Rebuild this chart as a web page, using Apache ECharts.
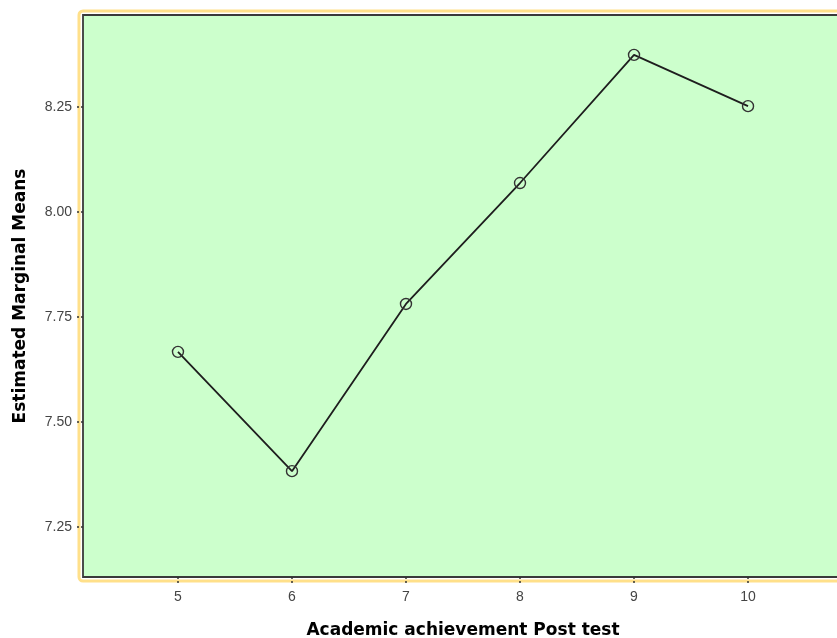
<!DOCTYPE html>
<html>
<head>
<meta charset="utf-8">
<script src="https://cdn.jsdelivr.net/npm/echarts@6/dist/echarts.min.js"></script>
<style>html,body{margin:0;padding:0;background:#fff;}#c{width:837px;height:638px;}</style>
</head>
<body>
<div id="c"></div>
<script>
var categories = [5, 6, 7, 8, 9, 10];
var means = [7.667, 7.383, 7.781, 8.069, 8.374, 8.252];
var yTicks = [7.25, 7.5, 7.75, 8.0, 8.25];
var xTicks = [5, 6, 7, 8, 9, 10];

var chart = echarts.init(document.getElementById('c'));
var pts = categories.map(function (c, i) { return [c, means[i]]; });
chart.setOption({
  animation: false,
  backgroundColor: '#ffffff',
  graphic: [{
    type: 'rect', z: -1,
    shape: { x: 79, y: 11, width: 780, height: 570, r: 4 },
    style: { fill: 'none', stroke: '#ffe08a', lineWidth: 3 }
  }],
  grid: {
    left: 83, top: 15, height: 562, width: 760,
    outerBoundsMode: 'none', containLabel: false,
    show: true, backgroundColor: '#ccffcc', borderColor: '#3a3a3a', borderWidth: 1.8
  },
  xAxis: {
    type: 'value', min: 4.167, max: 10.833,
    name: 'Academic achievement Post test', nameLocation: 'middle', nameGap: 45,
    nameTextStyle: { fontFamily: 'DejaVu Sans', fontWeight: 'bold', fontSize: 17, color: '#000' },
    splitLine: { show: false },
    axisLine: { show: false },
    axisTick: { show: true, customValues: xTicks, length: 8, lineStyle: { color: '#333', type: [2, 2], width: 1.5 } },
    axisLabel: { customValues: xTicks, fontFamily: 'Liberation Sans', fontSize: 14, color: '#444', margin: 13 }
  },
  yAxis: {
    type: 'value', min: 7.131, max: 8.469,
    name: 'Estimated Marginal Means', nameLocation: 'middle', nameGap: 54,
    nameTextStyle: { fontFamily: 'DejaVu Sans', fontWeight: 'bold', fontSize: 17, color: '#000' },
    splitLine: { show: false },
    axisLine: { show: false },
    axisTick: { show: true, customValues: yTicks, length: 8, lineStyle: { color: '#333', type: [2, 2], width: 1.5 } },
    axisLabel: { customValues: yTicks, fontFamily: 'Liberation Sans', fontSize: 14, color: '#444', margin: 11,
      formatter: function (v) { return v.toFixed(2); } }
  },
  series: [{
    type: 'line', data: pts,
    symbol: 'circle', symbolSize: 11,
    lineStyle: { color: '#1e1e1e', width: 1.8 },
    itemStyle: { color: 'rgba(0,0,0,0)', borderColor: '#333', borderWidth: 1.4 }
  }]
});
</script>
</body>
</html>
